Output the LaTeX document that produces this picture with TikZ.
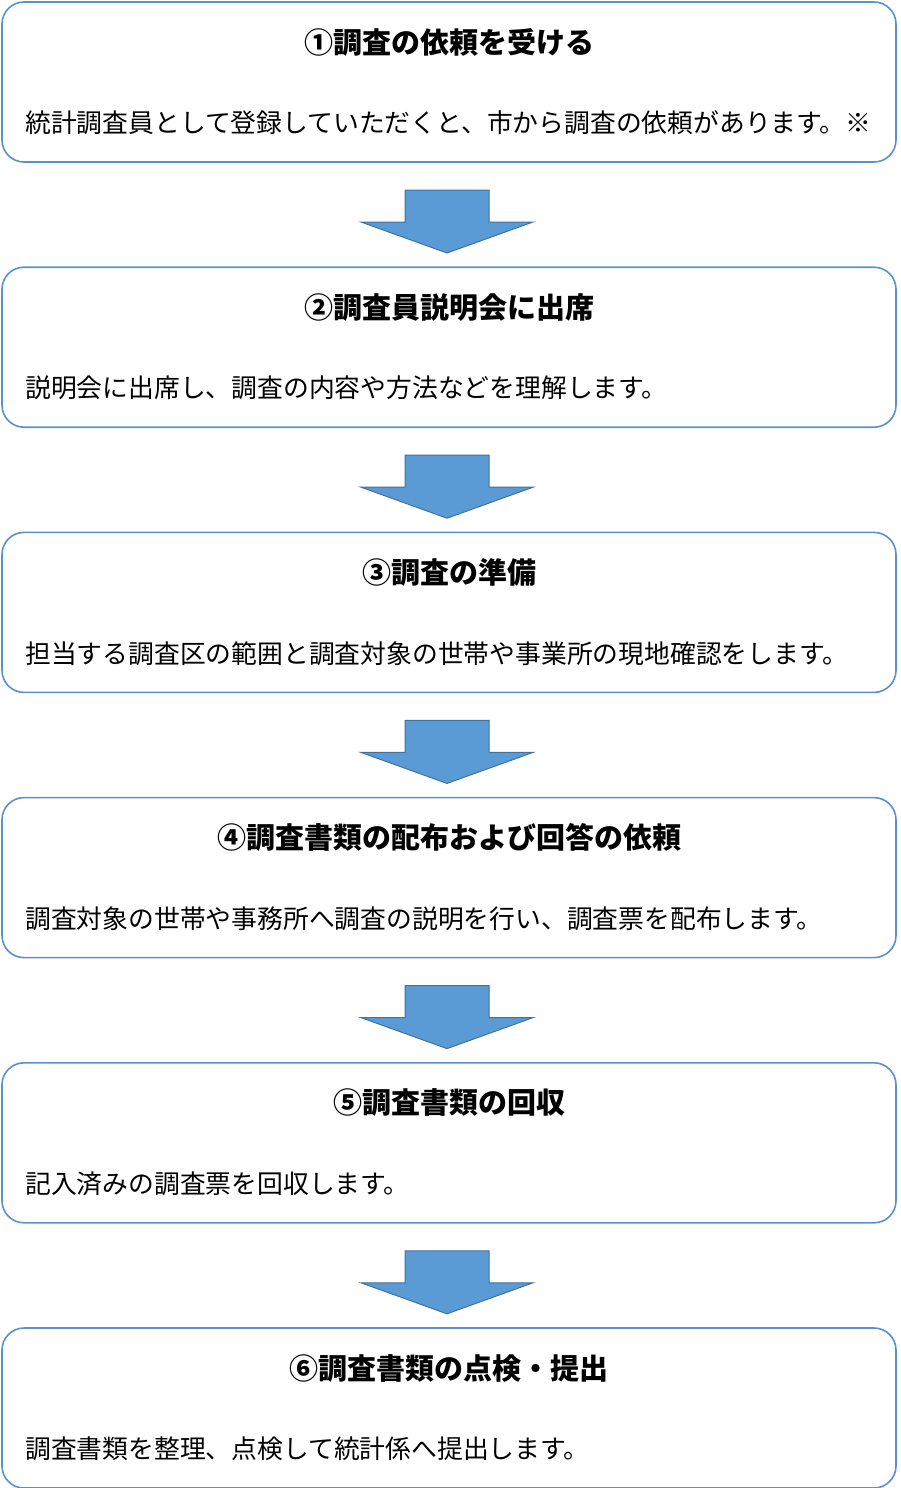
\documentclass[tikz,border=0pt]{standalone}
\usepackage{fontspec}
\newfontfamily\cjk{Noto Sans CJK JP}
\definecolor{boxline}{HTML}{5B8FD0}
\definecolor{arrowfill}{HTML}{5B9BD5}
\definecolor{arrowline}{HTML}{41719C}
\tikzset{
  stepbox/.style={draw=boxline, line width=1.6pt, rounded corners=22pt},
  title/.style={font=\cjk\bfseries\fontsize{29}{33}\selectfont, anchor=center},
  body/.style={font=\cjk\fontsize{25.8}{30}\selectfont, anchor=west, inner sep=0pt},
  pics/down/.style={code={
    \fill[arrowfill, draw=arrowline, line width=1pt]
      (-42pt,0pt) -- (42pt,0pt) -- (42pt,-32pt) -- (86pt,-32pt) -- (0pt,-63pt) -- (-86pt,-32pt) -- (-42pt,-32pt) -- cycle;
  }}
}
\begin{document}
\begin{tikzpicture}[x=1pt, y=-1pt]
\useasboundingbox (0,0) rectangle (900,1488);
\foreach \i/\t/\b in {
  0/①調査の依頼を受ける/統計調査員として登録していただくと、市から調査の依頼があります。※,
  1/②調査員説明会に出席/説明会に出席し、調査の内容や方法などを理解します。,
  2/③調査の準備/担当する調査区の範囲と調査対象の世帯や事業所の現地確認をします。,
  3/④調査書類の配布および回答の依頼/調査対象の世帯や事務所へ調査の説明を行い、調査票を配布します。,
  4/⑤調査書類の回収/記入済みの調査票を回収します。,
  5/⑥調査書類の点検・提出/調査書類を整理、点検して統計係へ提出します。} {
  \pgfmathsetmacro\top{2+265.2*\i}
  \draw[stepbox] (2,\top) rectangle (896,\top+160);
  \node[title] (t\i) at (449,\top+40) {\t};
  \node[body] (b\i) at (25,\top+121) {\b};
}
% arrows between steps
\foreach \i in {0,...,4} {
  \pgfmathsetmacro\ay{190+265.2*\i}
  \pic at (447,\ay) {down};
}
\end{tikzpicture}
\end{document}
